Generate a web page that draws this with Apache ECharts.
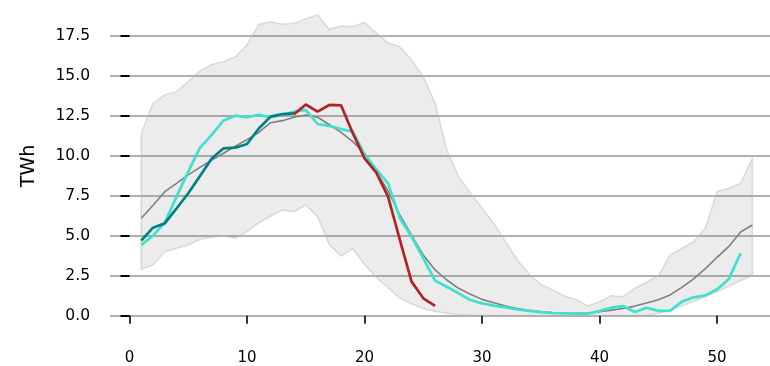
<!DOCTYPE html>
<html><head><meta charset="utf-8">
<script src="https://cdn.jsdelivr.net/npm/echarts@6/dist/echarts.min.js"></script>
<style>html,body{margin:0;padding:0;background:#fff}#c{width:770px;height:366px}</style>
</head><body><div id="c"></div>
<script>
const weeks = [1,2,3,4,5,6,7,8,9,10,11,12,13,14,15,16,17,18,19,20,21,22,23,24,25,26,27,28,29,30,31,32,33,34,35,36,37,38,39,40,41,42,43,44,45,46,47,48,49,50,51,52,53];
const bandMax = [11.4,13.27,13.8,14.0,14.63,15.3,15.7,15.88,16.19,16.92,18.2,18.35,18.22,18.27,18.55,18.8,17.9,18.1,18.06,18.33,17.67,17.06,16.8,15.98,14.94,13.27,10.36,8.69,7.65,6.71,5.77,4.63,3.48,2.6,1.96,1.61,1.23,1.02,0.61,0.88,1.25,1.19,1.71,2.09,2.5,3.79,4.21,4.63,5.46,7.75,7.96,8.27,9.84];
const bandMin = [2.9,3.17,4.0,4.21,4.42,4.77,4.9,4.98,4.84,5.25,5.81,6.23,6.6,6.5,6.92,6.19,4.44,3.73,4.2,3.2,2.4,1.75,1.1,0.75,0.45,0.28,0.15,0.08,0.03,0.03,0.03,0.03,0.03,0.03,0.03,0.03,0.03,0.03,0.03,0.03,0.03,0.03,0.03,0.03,0.15,0.35,0.6,0.9,1.2,1.5,1.85,2.2,2.5];
const meanVals = [6.09,6.9,7.75,8.27,8.8,9.27,9.73,10.15,10.6,11.0,11.45,12.06,12.19,12.4,12.54,12.4,11.95,11.46,10.88,10.15,9.0,7.8,6.3,5.04,3.79,2.86,2.23,1.71,1.34,1.02,0.81,0.6,0.45,0.33,0.25,0.2,0.17,0.15,0.17,0.25,0.35,0.45,0.6,0.8,1.0,1.3,1.77,2.3,2.94,3.65,4.33,5.23,5.67];
const turqWeeks = weeks.slice(0,52);
const turqVals = [4.42,5.0,5.8,7.44,9.0,10.5,11.3,12.2,12.5,12.4,12.55,12.4,12.54,12.75,12.86,11.98,11.86,11.67,11.5,10.1,9.15,8.27,6.09,4.94,3.59,2.19,1.81,1.4,0.98,0.77,0.63,0.52,0.4,0.3,0.22,0.17,0.15,0.13,0.12,0.3,0.5,0.6,0.23,0.5,0.3,0.3,0.88,1.15,1.27,1.65,2.3,3.9];
const tealWeeks = [1,2,3,4,5,6,7,8,9,10,11,12,13,14];
const tealVals = [4.69,5.5,5.77,6.7,7.65,8.73,9.83,10.46,10.5,10.73,11.7,12.44,12.6,12.65];
const redWeeks = [14,15,16,17,18,19,20,21,22,23,24,25,26];
const redVals = [12.59,13.2,12.75,13.17,13.15,11.4,9.83,8.94,7.44,4.75,2.13,1.09,0.61];
const xTicks = [0,10,20,30,40,50];
const yTicks = [0,2.5,5,7.5,10,12.5,15,17.5];

const pairs = (xs, ys) => ys.map((v,i)=>[xs[i], v]);
const bandData = weeks.map((w,i)=>[w, bandMin[i], bandMax[i]]);
const FONT = 'DejaVu Sans';
const chart = echarts.init(document.getElementById('c'));
chart.setOption({
  animation: false,
  grid: {left: 110, right: 0, top: 0, bottom: 50.3, containLabel: false},
  xAxis: {
    type: 'value', min: -1.66, max: 54.5, offset: 16,
    axisLine: {show: false},
    axisTick: {show: true, length: 8, lineStyle: {color: '#000', width: 1.6}, customValues: xTicks},
    axisLabel: {customValues: xTicks, margin: 19, fontSize: 15, color: '#000', fontFamily: FONT},
    splitLine: {show: false}
  },
  yAxis: {
    type: 'value', min: 0, max: 19.73,
    axisLine: {show: false},
    axisTick: {show: true, length: 9, lineStyle: {color: '#000', width: 2}, customValues: yTicks},
    axisLabel: {customValues: yTicks, formatter: v => v.toFixed(1), margin: 20, fontSize: 15.5, color: '#000', fontFamily: FONT},
    splitLine: {lineStyle: {color: '#b0b0b0', width: 2}}
  },
  graphic: [{type: 'text', x: 29, y: 166, rotation: Math.PI/2,
    style: {text: 'TWh', font: '19px "DejaVu Sans"', fill: '#000', align: 'center', verticalAlign: 'middle'}}],
  series: [
    {type: 'custom', data: bandData, silent: true, clip: true,
      encode: {x: 0, y: [1, 2]},
      renderItem: function (params, api) {
        if (params.dataIndex !== 0) return null;
        const upper = bandData.map(d => api.coord([d[0], d[2]]));
        const lower = bandData.map(d => api.coord([d[0], d[1]])).reverse();
        return {type: 'polygon', shape: {points: upper.concat(lower)},
          style: {fill: 'rgba(128,128,128,0.15)', stroke: 'rgba(190,190,190,0.5)', lineWidth: 1.5}};
      }},
    {type: 'line', data: pairs(weeks, meanVals), symbol: 'none', lineStyle: {color: '#808080', width: 1.6}},
    {type: 'line', data: pairs(turqWeeks, turqVals), symbol: 'none', lineStyle: {color: '#40e0d0', width: 2.7}},
    {type: 'line', data: pairs(tealWeeks, tealVals), symbol: 'none', lineStyle: {color: '#008080', width: 2.7}},
    {type: 'line', data: pairs(redWeeks, redVals), symbol: 'none', lineStyle: {color: '#b22222', width: 2.7}}
  ]
});
</script></body></html>
